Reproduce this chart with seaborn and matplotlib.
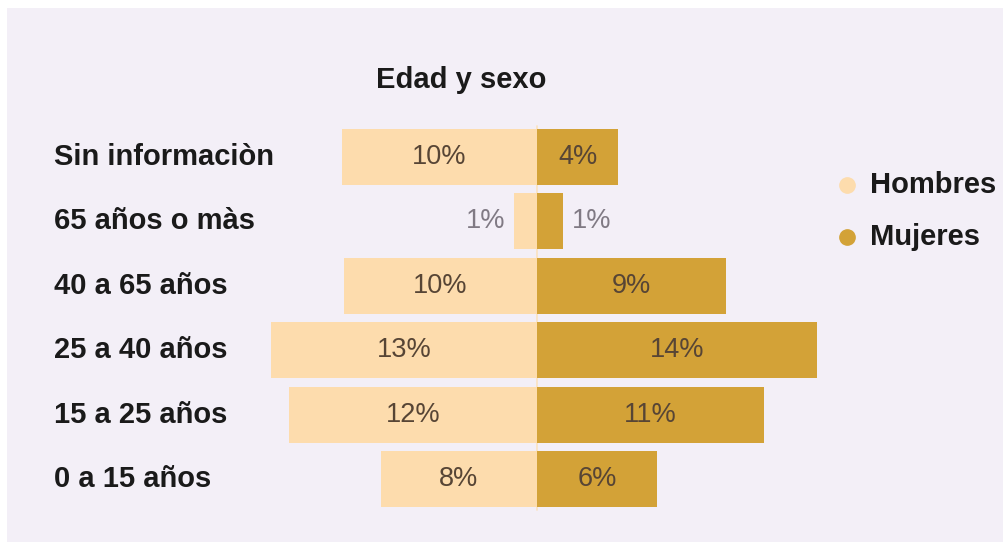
import matplotlib
matplotlib.use("Agg")
import matplotlib.pyplot as plt
import matplotlib.transforms as mtransforms
from matplotlib.patches import Rectangle
from matplotlib.lines import Line2D
import seaborn as sns
import pandas as pd

categories = ["Sin informaciòn", "65 años o màs", "40 a 65 años", "25 a 40 años", "15 a 25 años", "0 a 15 años"]
hombres = [9.6, 1.15, 9.5, 13.1, 12.2, 7.7]
mujeres = [4.0, 1.3, 9.3, 13.8, 11.2, 5.9]
hombres_labels = ["10%", "1%", "10%", "13%", "12%", "8%"]
mujeres_labels = ["4%", "1%", "9%", "14%", "11%", "6%"]
title = "Edad y sexo"
series_names = ["Hombres", "Mujeres"]

c_h = "#fddcad"
c_m = "#d3a237"
bg = "#f3eff7"

sns.set_theme(style="white")
plt.rcParams['font.family'] = ['Liberation Sans', 'DejaVu Sans']

W, H = 1004, 542
fig = plt.figure(figsize=(W / 100, H / 100), dpi=100)
fig.patch.set_facecolor("white")
fig.patches.append(Rectangle((7 / W, 0), 1, 1 - 8 / H, transform=fig.transFigure,
                             facecolor=bg, edgecolor="none", zorder=-10))

# axes in pixel coordinates
ax_l, ax_r = 250, 860
ax_t, ax_b = 118.4, 517.6
ax = fig.add_axes([ax_l / W, 1 - ax_b / H, (ax_r - ax_l) / W, (ax_b - ax_t) / H])
ax.set_facecolor("none")

ppu = 20.3
center = 537
ax.set_xlim((ax_l - center) / ppu, (ax_r - center) / ppu)

df = pd.DataFrame({"cat": categories, "h": [-v for v in hombres], "m": mujeres})
sns.barplot(data=df, x="h", y="cat", orient="h", color=c_h, width=0.87, ax=ax,
            saturation=1, linewidth=0)
sns.barplot(data=df, x="m", y="cat", orient="h", color=c_m, width=0.87, ax=ax,
            saturation=1, linewidth=0)
ax.set_ylim(len(categories) - 0.4, -0.6)
ax.axvline(0, ymin=0.02, ymax=0.98, color="#fbe2c0", lw=1.2, zorder=0)

for s in ax.spines.values():
    s.set_visible(False)
ax.set_xticks([])
ax.set_yticks([])
ax.set_xlabel("")
ax.set_ylabel("")

val_fs = 19.5
for i, (hv, mv, hl, ml) in enumerate(zip(hombres, mujeres, hombres_labels, mujeres_labels)):
    if hv >= 3:
        ax.text(-hv / 2, i, hl, ha="center", va="center", fontsize=val_fs, color="#574535")
    else:
        ax.text(-hv - 0.4, i, hl, ha="right", va="center", fontsize=val_fs, color="#807a84")
    if mv >= 3:
        ax.text(mv / 2, i, ml, ha="center", va="center", fontsize=val_fs, color="#574535")
    else:
        ax.text(mv + 0.4, i, ml, ha="left", va="center", fontsize=val_fs, color="#807a84")

# category labels
trans = mtransforms.blended_transform_factory(fig.transFigure, ax.transData)
for i, c in enumerate(categories):
    ax.text(54 / W, i, c, transform=trans, ha="left", va="center", fontsize=21,
            fontweight="bold", color="#1a1a1a", clip_on=False)

fig.text(461 / W, 1 - 80 / H, title, ha="center", va="center", fontsize=21,
         fontweight="bold", color="#1a1a1a")

# legend
for name, col, yp in zip(series_names, [c_h, c_m], [185, 237]):
    fig.lines.append(Line2D([847 / W], [1 - yp / H], marker="o", markersize=11,
                            color=col, transform=fig.transFigure, linestyle="none"))
    fig.text(870 / W, 1 - yp / H, name, ha="left", va="center", fontsize=21,
             fontweight="bold", color="#1a1a1a")

fig.savefig("out.png", dpi=100)
